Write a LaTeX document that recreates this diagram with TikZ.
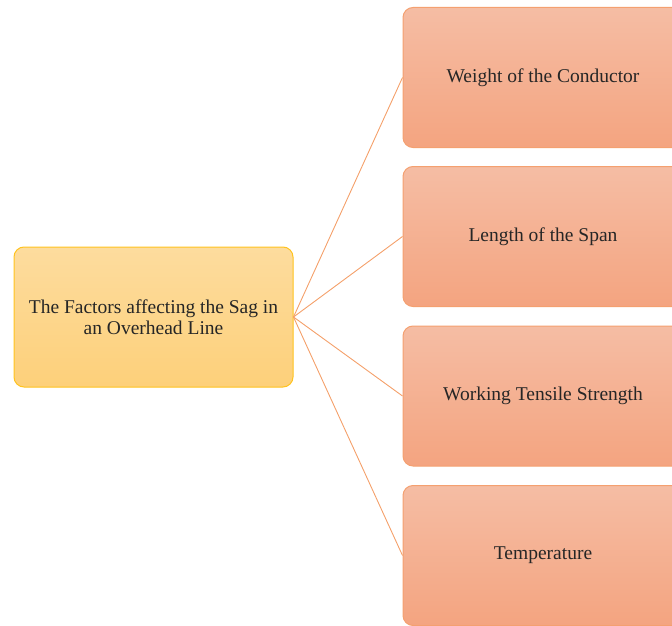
\documentclass[tikz,border=0pt]{standalone}
\usepackage{fontspec}
\setmainfont{Liberation Serif}
\usetikzlibrary{shadings}
\definecolor{rootTop}{HTML}{FDDC9E}
\definecolor{rootBot}{HTML}{FDD07A}
\definecolor{rootLine}{HTML}{FFC31F}
\definecolor{leafTop}{HTML}{F5BDA4}
\definecolor{leafBot}{HTML}{F4A480}
\definecolor{leafLine}{HTML}{F4A070}
\definecolor{linkCol}{HTML}{F4A06A}
\tikzset{
  rootbox/.style={draw=rootLine, line width=1pt, rounded corners=10pt,
    top color=rootTop, bottom color=rootBot, minimum width=279pt,
    minimum height=140pt, align=center,
    font=\fontsize{19.5}{21}\selectfont, text=black!85},
  leafbox/.style={draw=leafLine, line width=1pt, rounded corners=10pt,
    top color=leafTop, bottom color=leafBot, minimum width=280pt,
    minimum height=140pt, align=center,
    font=\fontsize{19.5}{21}\selectfont, text=black!85},
  link/.style={draw=linkCol, line width=0.9pt}
}
\begin{document}
\begin{tikzpicture}[x=1pt,y=-1pt]
\useasboundingbox (0,0) rectangle (672,626);
\clip (0,0) rectangle (672,626);
\node[rootbox] (root) at (153.5,317) {The Factors affecting the Sag in\\an Overhead Line};
\node[leafbox] (w) at (543,77.5) {Weight of the Conductor};
\node[leafbox] (l) at (543,236.5) {Length of the Span};
\node[leafbox] (t) at (543,396) {Working Tensile Strength};
\node[leafbox] (p) at (543,555.5) {Temperature};
\foreach \n in {w,l,t,p}
  \draw[link] (root.east) -- (\n.west);
\end{tikzpicture}
\end{document}
